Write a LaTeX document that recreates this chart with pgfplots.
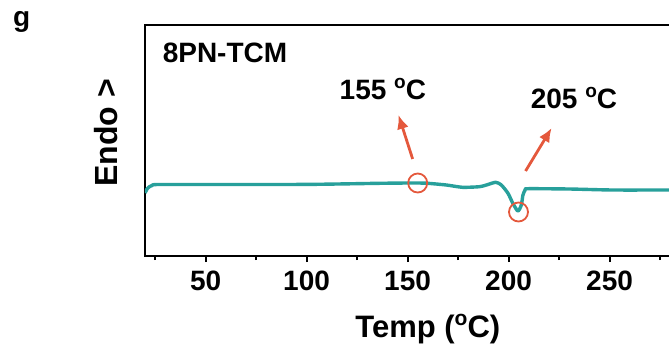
\documentclass[border=0pt]{standalone}
\usepackage{fontspec}
\setmainfont{Liberation Sans}
\usepackage{pgfplots}
\pgfplotsset{compat=1.18}
\usetikzlibrary{arrows.meta}
\definecolor{teal1}{RGB}{40,160,155}
\definecolor{redo}{RGB}{228,88,60}
\newcommand\dg[1][19]{\raisebox{0.72ex}{\fontsize{#1}{#1}\selectfont o}}
\begin{document}
\begin{tikzpicture}
\useasboundingbox (-145pt,-93pt) rectangle (524pt,256pt);
\clip (-145pt,-93pt) rectangle (524pt,256pt);
\begin{axis}[
  at={(0,0)}, anchor=south west,
  scale only axis, width=565.6pt, height=231pt,
  xmin=20, xmax=300, ymin=0, ymax=231,
  axis line style={line width=2.2pt},
  xtick={50,100,...,250}, minor xtick={25,75,...,275},
  ytick=\empty,
  xtick pos=bottom, tick align=outside,
  major tick length=6pt, minor tick length=4pt,
  every tick/.style={black, line width=2pt},
  ticklabel style={font=\fontsize{28}{32}\selectfont\bfseries},
  xticklabel style={yshift=-5pt},
  /pgf/number format/assume math mode=true,
  xlabel={Temp (\dg[21]C)},
  xlabel style={font=\fontsize{31}{36}\selectfont\bfseries, yshift=-17pt},
]
\addplot[teal1, line width=3.4pt, line join=round, smooth, tension=0.4] coordinates {
 (20,63) (21,67) (22,69) (23.5,70.5) (26,71.5) (50,71.5) (100,71.6) (136,72.7)
 (150,73) (155,73) (160,72.7) (169.2,71) (177.2,68.7) (185.6,69.3) (189,71)
 (193.6,73.7) (196.4,71) (199.7,62.7) (202.1,52.7) (204.6,45) (206.3,51)
 (207.1,61) (208.2,66) (209.6,67.3) (230,67) (251.5,66) (279,66) (300,66)
};
\addplot[only marks, mark=o, mark size=9.5pt, mark options={draw=redo, line width=1.8pt}] coordinates {
 (155,73) (204.9,44)
};
\draw[redo, line width=2.8pt, -{Latex[length=14pt,width=12pt]}] (axis cs:152.5,97) -- (axis cs:145.5,141);
\draw[redo, line width=2.8pt, -{Latex[length=14pt,width=12pt]}] (axis cs:208.4,85) -- (axis cs:221.3,128);
\node[anchor=base west, inner sep=0pt, font=\fontsize{28}{32}\selectfont\bfseries] at (axis cs:116.3,157) {155 \dg C};
\node[anchor=base west, inner sep=0pt, font=\fontsize{28}{32}\selectfont\bfseries] at (axis cs:210.9,148) {205 \dg C};
\node[anchor=base west, inner sep=0pt, font=\fontsize{28}{32}\selectfont\bfseries] at (axis cs:28.7,194) {8PN-TCM};
\end{axis}
\node[rotate=90, anchor=base, inner sep=0pt, font=\fontsize{32}{36}\selectfont\bfseries] at (-27pt,123pt) {Endo >};
\node[anchor=base west, inner sep=0pt, font=\fontsize{28}{32}\selectfont\bfseries] at (-132pt,230pt) {g};
\end{tikzpicture}
\end{document}
